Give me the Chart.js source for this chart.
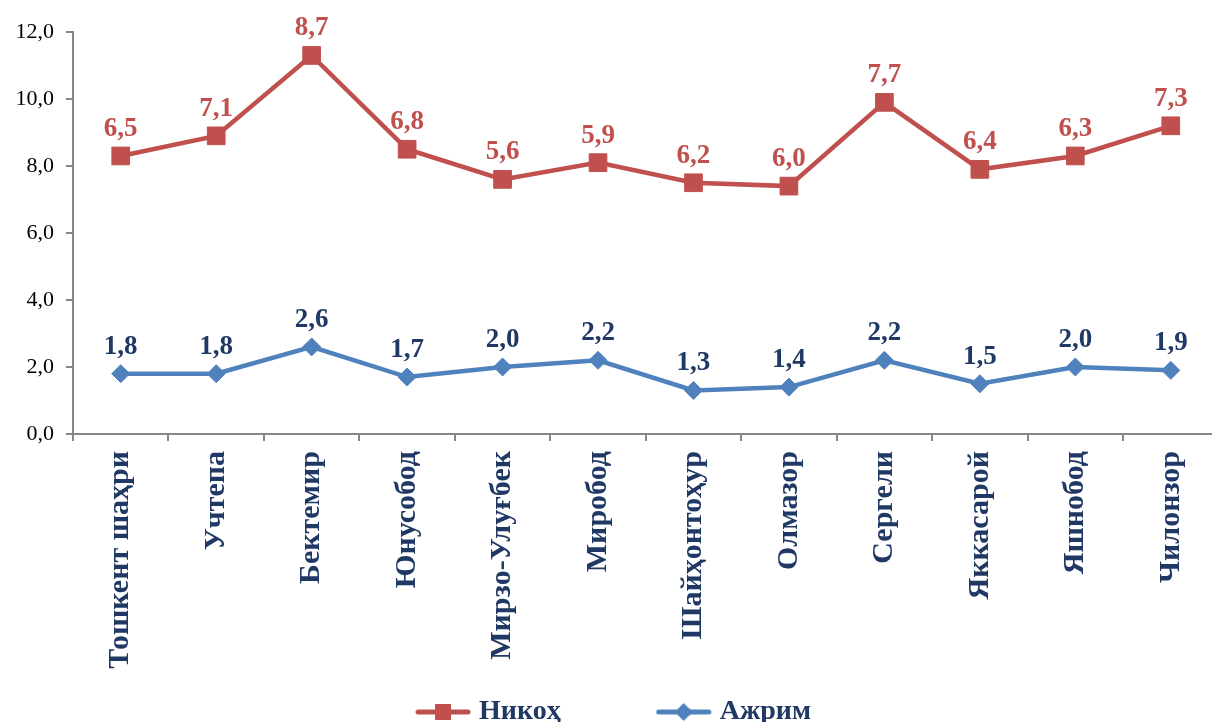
<!DOCTYPE html>
<html>
<head>
<meta charset="utf-8">
<script src="https://cdn.jsdelivr.net/npm/chart.js@4.4.1/dist/chart.umd.min.js"></script>
<style>
    html, body { margin: 0; padding: 0; background: #fff; overflow: hidden; }
    #wrap { width: 1212px; height: 722px; overflow: hidden; }
</style>
</head>
<body>
<div id="wrap">
    <canvas id="lineChart" width="1232" height="736"></canvas>
</div>
<script>
// туманлар
const districts = ['Тошкент шаҳри', 'Учтепа', 'Бектемир', 'Юнусобод', 'Мирзо-Улуғбек', 'Миробод',
    'Шайҳонтоҳур', 'Олмазор', 'Сергели', 'Яккасарой', 'Яшнобод', 'Чилонзор'];
// Никоҳ (устма-уст, Ажрим устига қўйилган)
const nikohValues = [6.5, 7.1, 8.7, 6.8, 5.6, 5.9, 6.2, 6.0, 7.7, 6.4, 6.3, 7.3];
// Ажрим
const ajrimValues = [1.8, 1.8, 2.6, 1.7, 2.0, 2.2, 1.3, 1.4, 2.2, 1.5, 2.0, 1.9];
const yTicks = [0, 2, 4, 6, 8, 10, 12];

const RED = '#C0504D';
const BLUE = '#4F81BD';
const NAVY = '#1F3864';
const FONT = '"Liberation Serif", "Times New Roman", serif';

const fmt = v => v.toFixed(1).replace('.', ',');

// легенда учун чизиқ+маркер расмчаси
function makeIcon(color, shape) {
    const c = document.createElement('canvas');
    c.width = 56; c.height = 24;
    const g = c.getContext('2d');
    g.strokeStyle = color;
    g.lineWidth = 5;
    g.lineCap = 'round';
    g.beginPath(); g.moveTo(3, 12); g.lineTo(53, 12); g.stroke();
    g.fillStyle = color;
    if (shape === 'rect') {
        g.fillRect(28 - 8, 12 - 8, 16, 16);
    } else {
        g.beginPath();
        g.moveTo(28, 3); g.lineTo(37, 12); g.lineTo(28, 21); g.lineTo(19, 12);
        g.closePath(); g.fill();
    }
    return c;
}
const legendIcons = [makeIcon(BLUE, 'diamond'), makeIcon(RED, 'rect')];

// нуқталар устидаги қийматлар
const valueLabels = {
    id: 'valueLabels',
    afterDatasetsDraw(chart) {
        const ctx = chart.ctx;
        chart.data.datasets.forEach((ds, i) => {
            const meta = chart.getDatasetMeta(i);
            ctx.save();
            ctx.font = 'bold 27px ' + FONT;
            ctx.fillStyle = ds.labelColor;
            ctx.textAlign = 'center';
            ctx.textBaseline = 'alphabetic';
            meta.data.forEach((pt, j) => {
                ctx.fillText(fmt(ds.data[j]), pt.x, pt.y - 20);
            });
            ctx.restore();
        });
    }
};

let myLineChart;

document.addEventListener('DOMContentLoaded', function() {
    const ctx = document.getElementById('lineChart').getContext('2d');
    myLineChart = new Chart(ctx, {
        type: 'line',
        data: {
            labels: districts,
            datasets: [{
                label: 'Ажрим',
                data: ajrimValues,
                borderColor: BLUE,
                backgroundColor: BLUE,
                borderWidth: 4.5,
                pointStyle: 'rectRot',
                pointRadius: 9,
                pointBorderWidth: 1,
                labelColor: NAVY,
                tension: 0
            }, {
                label: 'Никоҳ',
                data: nikohValues,
                borderColor: RED,
                backgroundColor: RED,
                borderWidth: 4.5,
                pointStyle: 'rect',
                pointRadius: 12.5,
                pointBorderWidth: 1,
                labelColor: RED,
                tension: 0
            }]
        },
        options: {
            responsive: false,
            maintainAspectRatio: false,
            animation: false,
            layout: { padding: { top: 32, right: 0, left: 0, bottom: 0 } },
            plugins: {
                tooltip: { enabled: false },
                legend: {
                    position: 'bottom',
                    reverse: true,
                    labels: {
                        usePointStyle: true,
                        pointStyleWidth: 44,
                        padding: 10,
                        color: NAVY,
                        font: { family: FONT, size: 28, weight: 'bold' },
                        generateLabels: function(chart) {
                            const items = Chart.defaults.plugins.legend.labels.generateLabels(chart);
                            items.forEach(item => {
                                item.pointStyle = legendIcons[item.datasetIndex];
                                // элементлар орасидаги масофа
                                if (item.datasetIndex === 1) item.text = item.text + '\u2003\u2003\u2003 ';
                            });
                            return items;
                        }
                    }
                }
            },
            scales: {
                x: {
                    offset: true,
                    grid: {
                        offset: true,
                        drawOnChartArea: false,
                        drawTicks: true,
                        tickLength: 7,
                        color: '#868686',
                        lineWidth: 2
                    },
                    border: { display: true, color: '#868686', width: 2 },
                    ticks: {
                        autoSkip: false,
                        maxRotation: 90,
                        minRotation: 90,
                        padding: 10,
                        color: NAVY,
                        font: { family: FONT, size: 30, weight: 'bold' }
                    },
                    afterFit: function(scale) { scale.height = 254; }
                },
                y: {
                    stacked: true,
                    min: yTicks[0],
                    max: yTicks[yTicks.length - 1],
                    afterBuildTicks: function(scale) {
                        scale.ticks = yTicks.map(v => ({ value: v }));
                    },
                    grid: {
                        drawOnChartArea: false,
                        drawTicks: true,
                        tickLength: 7,
                        color: '#868686',
                        lineWidth: 2
                    },
                    border: { display: true, color: '#868686', width: 2 },
                    ticks: {
                        padding: 12,
                        color: '#000',
                        font: { family: FONT, size: 22 },
                        callback: v => fmt(v)
                    },
                    afterFit: function(scale) { scale.width = 73; }
                }
            }
        },
        plugins: [valueLabels]
    });
});
</script>
</body>
</html>
